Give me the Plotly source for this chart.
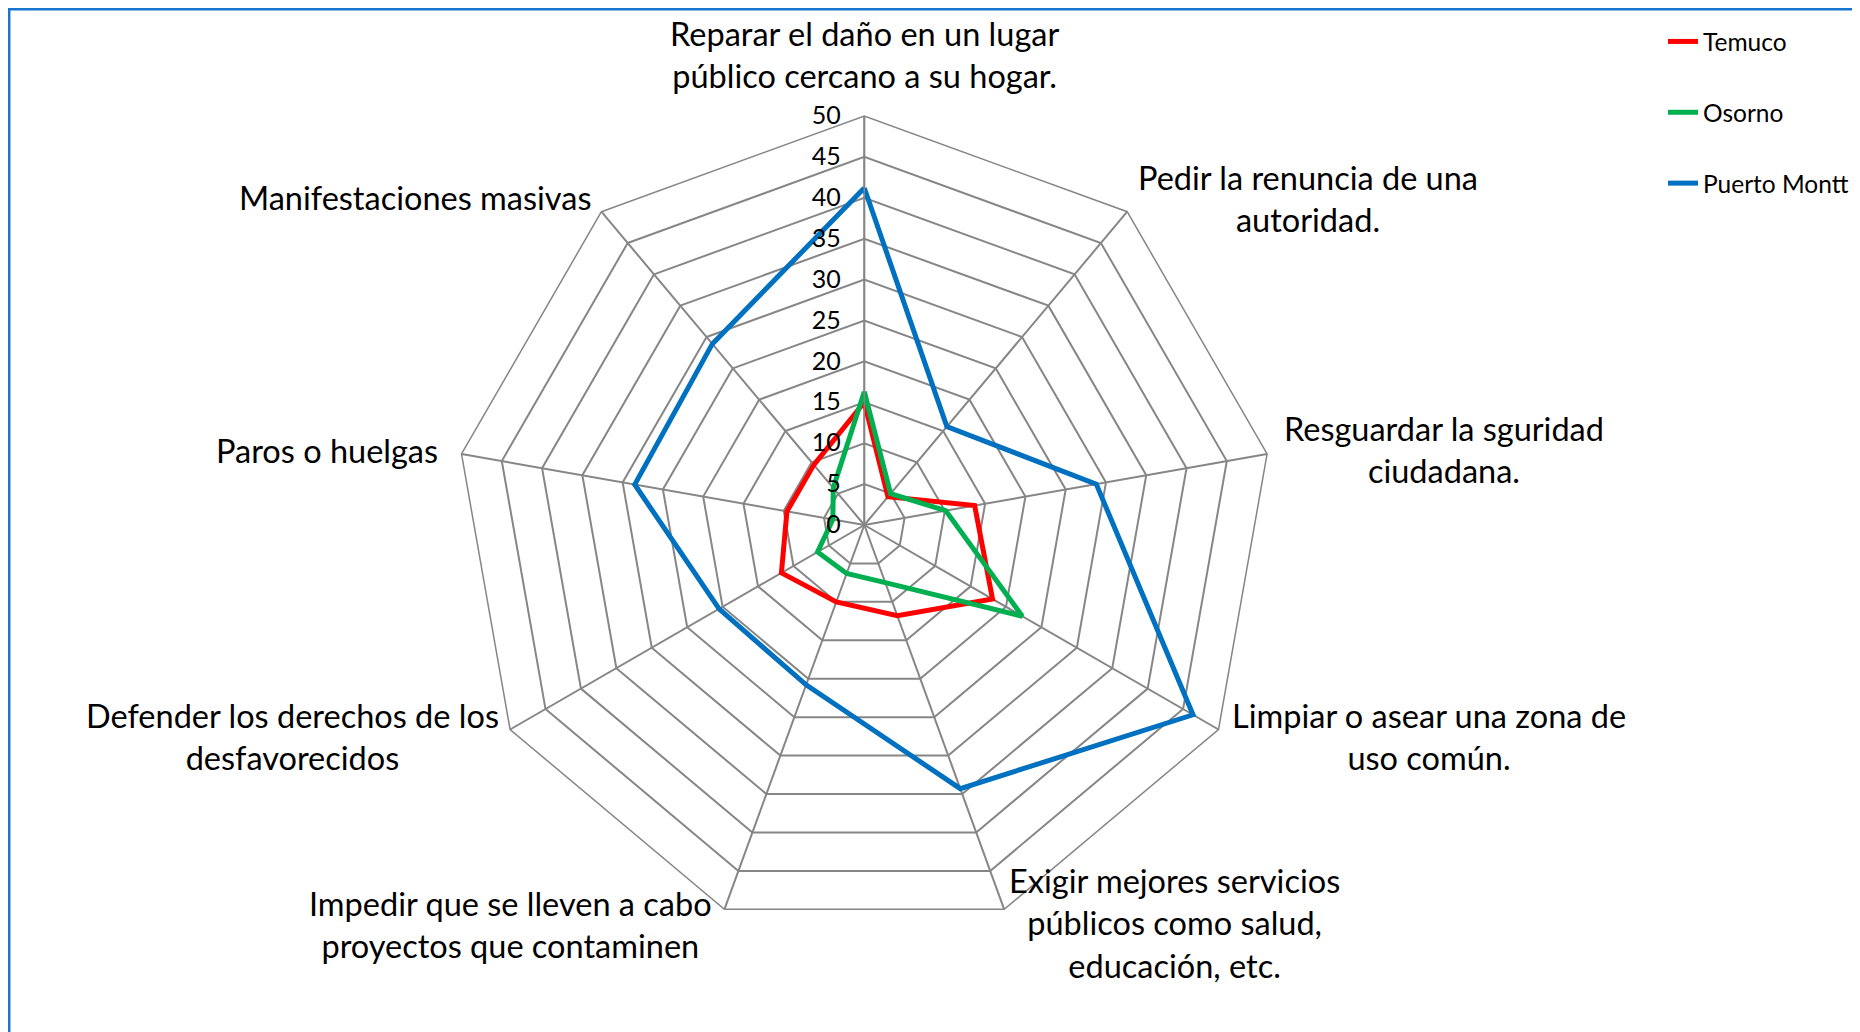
import plotly.graph_objects as go

# categorias (sentido horario desde arriba)
categorias = [
    "Reparar el daño en un lugar público cercano a su hogar.",
    "Pedir la renuncia de una autoridad.",
    "Resguardar la sguridad ciudadana.",
    "Limpiar o asear una zona de uso común.",
    "Exigir mejores servicios públicos como salud, educación, etc.",
    "Impedir que se lleven a cabo proyectos que contaminen",
    "Defender los derechos de los desfavorecidos",
    "Paros o huelgas",
    "Manifestaciones masivas",
]
etiquetas = [
    "Reparar el daño en un lugar<br>público cercano a su hogar.",
    "Pedir la renuncia de una<br>autoridad.",
    "Resguardar la sguridad<br>ciudadana.",
    "Limpiar o asear una zona de<br>uso común.",
    "Exigir mejores servicios<br>públicos como salud,<br>educación, etc.",
    "Impedir que se lleven a cabo<br>proyectos que contaminen",
    "Defender los derechos de los<br>desfavorecidos",
    "Paros o huelgas",
    "Manifestaciones masivas",
]

temuco = [15.0, 4.5, 13.7, 18.1, 11.8, 10.0, 11.7, 9.6, 9.6]
osorno = [16.3, 5.0, 10.1, 22.3, 7.5, 6.3, 6.6, 3.9, 5.9]
puerto_montt = [41.2, 15.7, 28.8, 46.4, 34.3, 20.8, 20.5, 28.5, 28.9]

radial_ticks = [0, 5, 10, 15, 20, 25, 30, 35, 40, 45, 50]

# la pagina tiene un margen de 8px en el body
OFF = 8
W, H = 1860 - OFF, 1032 - OFF
FONT = "Lato"


def px_x(px):
    return (px - OFF) / W


def px_y(py):
    return 1 - (py - OFF) / H


# posiciones de las etiquetas (px en pantalla, centro del bloque)
pos_etiquetas = [(864, 54), (1308, 198), (1444, 449), (1429, 736), (1174, 923),
                 (510, 924), (292, 736), (327, 450), (415, 197)]

series = [
    ("Temuco", temuco, "#FF0000"),
    ("Osorno", osorno, "#00B050"),
    ("Puerto Montt", puerto_montt, "#0070C0"),
]

fig = go.Figure()
for nombre, vals, color in series:
    fig.add_trace(go.Scatterpolar(
        r=vals + vals[:1],
        theta=categorias + categorias[:1],
        mode="lines",
        name=nombre,
        legendgroup=nombre,
        line=dict(color=color, width=5),
    ))

# centro (864.3, 525), radio 409 px
cx, cy, R = 864.3, 525, 409
fig.update_layout(
    width=W, height=H,
    margin=dict(l=0, r=0, t=0, b=0),
    paper_bgcolor="white",
    plot_bgcolor="white",
    font=dict(family=FONT, color="black"),
    polar=dict(
        domain=dict(x=[px_x(cx - R), px_x(cx + R)], y=[px_y(cy + R), px_y(cy - R)]),
        gridshape="linear",
        bgcolor="white",
        radialaxis=dict(
            range=[0, 50], tickvals=radial_ticks, angle=90, tickangle=90,
            side="counterclockwise", showline=True, linecolor="#868686", linewidth=1.5,
            gridcolor="#868686", gridwidth=1.5,
            ticks="outside", ticklen=14, tickcolor="rgba(0,0,0,0)",
            tickfont=dict(size=25, family=FONT, color="black"),
        ),
        angularaxis=dict(
            direction="clockwise", rotation=90, showticklabels=False, ticks="",
            linecolor="#868686", linewidth=1.5, gridcolor="#868686", gridwidth=1.5,
            categoryorder="array", categoryarray=categorias,
        ),
    ),
    legend=dict(
        x=px_x(1663), y=px_y(19), xanchor="left", yanchor="top",
        font=dict(size=24.5, family=FONT), tracegroupgap=36,
        bgcolor="rgba(0,0,0,0)",
    ),
    shapes=[dict(type="rect", xref="paper", yref="paper",
                 x0=1.2 / W, x1=1.2, y0=-0.2, y1=1 - 1.2 / H,
                 line=dict(color="#1874CD", width=2.5))],
)

for txt, (px, py) in zip(etiquetas, pos_etiquetas):
    fig.add_annotation(x=px_x(px), y=px_y(py), xref="paper", yref="paper",
                       text=txt, showarrow=False, xanchor="center", yanchor="middle",
                       align="center", font=dict(size=32.5, family=FONT, color="black"))

fig.write_html("out.html")
